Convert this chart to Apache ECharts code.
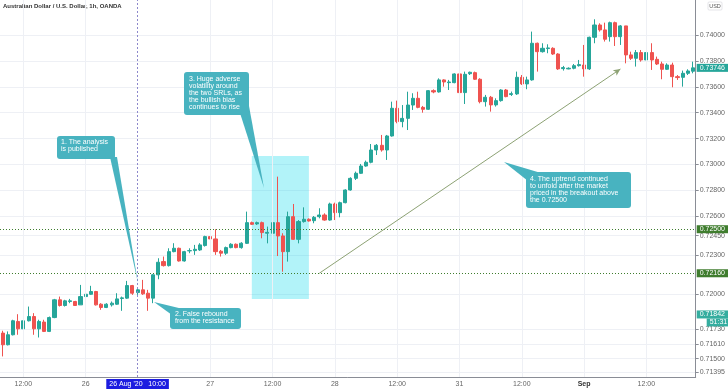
<!DOCTYPE html>
<html><head><meta charset="utf-8">
<script src="https://cdn.jsdelivr.net/npm/echarts@6/dist/echarts.min.js"></script>
<style>html,body{margin:0;padding:0;background:#fff}#c{width:728px;height:391px}</style>
</head><body><div id="c"></div>
<script>
// trading sessions (day, month, first hour, last hour)
const sessions = [['25','Aug',8,23],['26','Aug',0,23],['27','Aug',0,23],['28','Aug',0,20],['30','Aug',21,23],['31','Aug',0,23],['01','Sep',0,21]];
const categories = [];
sessions.forEach(s => { for (let h = s[2]; h <= s[3]; h++) categories.push(s[0] + ' ' + s[1] + ' ' + String(h).padStart(2,'0') + ':00'); });

const open = [0.71698,0.71608,0.71685,0.71788,0.71731,0.71793,0.71826,0.71731,0.71783,0.71711,0.71818,0.71955,0.71911,0.71942,0.71942,0.71916,0.71980,0.71998,0.72019,0.71921,
0.71896,0.71916,0.71921,0.71965,0.71968,0.72065,0.72011,0.72032,0.72006,0.71968,0.72148,0.72250,0.72219,0.72327,0.72353,0.72255,0.72333,0.72335,0.72340,0.72374,
0.72443,0.72425,0.72330,0.72315,0.72358,0.72384,0.72358,0.72391,0.72551,0.72541,0.72551,0.72469,0.72469,0.72551,0.72448,0.72327,0.72597,0.72422,0.72559,0.72577,
0.72566,0.72597,0.72610,0.72571,0.72695,0.72628,0.72705,0.72803,0.72893,0.72932,0.72988,0.73017,0.73112,0.73148,0.73112,0.73220,0.73434,0.73331,0.73356,0.73459,
0.73511,0.73441,0.73426,0.73570,0.73560,0.73653,0.73632,0.73632,0.73699,0.73555,0.73701,0.73709,0.73658,0.73485,0.73519,0.73460,0.73493,0.73575,0.73540,0.73545,
0.73673,0.73622,0.73653,0.73936,0.73871,0.73895,0.73897,0.73853,0.73740,0.73738,0.73743,0.73763,0.73768,0.73738,0.73982,0.74077,0.74039,0.73987,0.74095,0.73987,
0.74070,0.73846,0.73820,0.73864,0.73807,0.73864,0.73812,0.73776,0.73735,0.73768,0.73678,0.73673,0.73704,0.73720];
const close = [0.71608,0.71685,0.71793,0.71731,0.71793,0.71826,0.71731,0.71788,0.71711,0.71818,0.71955,0.71911,0.71947,0.71947,0.71911,0.71980,0.71998,0.72019,0.71916,0.71896,
0.71921,0.71929,0.71962,0.71970,0.72065,0.72006,0.72032,0.72001,0.71968,0.72148,0.72245,0.72219,0.72327,0.72353,0.72255,0.72327,0.72335,0.72345,0.72379,0.72443,
0.72425,0.72327,0.72315,0.72358,0.72384,0.72358,0.72392,0.72551,0.72538,0.72551,0.72474,0.72476,0.72551,0.72448,0.72327,0.72597,0.72422,0.72559,0.72577,0.72564,
0.72592,0.72610,0.72571,0.72695,0.72628,0.72705,0.72803,0.72893,0.72932,0.72988,0.73017,0.73112,0.73148,0.73112,0.73220,0.73434,0.73331,0.73356,0.73459,0.73511,
0.73441,0.73426,0.73570,0.73560,0.73653,0.73637,0.73637,0.73699,0.73555,0.73696,0.73712,0.73658,0.73485,0.73519,0.73460,0.73493,0.73575,0.73524,0.73547,0.73673,
0.73622,0.73653,0.73936,0.73871,0.73897,0.73900,0.73853,0.73738,0.73748,0.73743,0.73763,0.73771,0.73738,0.73982,0.74077,0.74039,0.73967,0.74095,0.73987,0.74070,
0.73846,0.73820,0.73864,0.73807,0.73864,0.73807,0.73776,0.73735,0.73768,0.73678,0.73671,0.73704,0.73722,0.73746];
const low = [0.71518,0.71603,0.71680,0.71685,0.71690,0.71788,0.71685,0.71664,0.71706,0.71706,0.71813,0.71903,0.71903,0.71929,0.71908,0.71916,0.71973,0.71993,0.71911,0.71878,
0.71891,0.71903,0.71916,0.71870,0.71962,0.71993,0.71993,0.71993,0.71870,0.71929,0.72114,0.72212,0.72212,0.72322,0.72250,0.72250,0.72315,0.72302,0.72333,0.72366,
0.72405,0.72302,0.72289,0.72302,0.72353,0.72353,0.72350,0.72386,0.72533,0.72533,0.72430,0.72391,0.72443,0.72293,0.72172,0.72250,0.72417,0.72391,0.72551,0.72559,
0.72546,0.72584,0.72566,0.72566,0.72571,0.72592,0.72700,0.72798,0.72880,0.72927,0.72983,0.73009,0.73073,0.73099,0.73035,0.73215,0.73318,0.73287,0.73266,0.73421,
0.73434,0.73400,0.73421,0.73550,0.73555,0.73601,0.73575,0.73627,0.73524,0.73467,0.73691,0.73653,0.73472,0.73447,0.73408,0.73447,0.73485,0.73519,0.73529,0.73537,
0.73614,0.73581,0.73647,0.73717,0.73864,0.73859,0.73846,0.73730,0.73725,0.73735,0.73735,0.73756,0.73678,0.73730,0.73936,0.74026,0.73949,0.73949,0.73915,0.73923,
0.73781,0.73807,0.73756,0.73794,0.73768,0.73730,0.73768,0.73658,0.73730,0.73596,0.73653,0.73601,0.73691,0.73704];
const high = [0.71716,0.71711,0.71801,0.71844,0.71801,0.71903,0.71852,0.71801,0.71801,0.71826,0.71962,0.71980,0.71955,0.71962,0.71947,0.72070,0.72065,0.72063,0.72024,0.71929,
0.71929,0.71942,0.72006,0.71980,0.72101,0.72070,0.72045,0.72109,0.72032,0.72153,0.72276,0.72289,0.72353,0.72392,0.72358,0.72333,0.72353,0.72379,0.72392,0.72450,
0.72507,0.72500,0.72340,0.72366,0.72392,0.72390,0.72400,0.72636,0.72559,0.72559,0.72559,0.72520,0.72597,0.72906,0.72469,0.72636,0.72695,0.72571,0.72669,0.72584,
0.72602,0.72662,0.72623,0.72705,0.72705,0.72713,0.72808,0.72901,0.72945,0.73004,0.73030,0.73158,0.73158,0.73228,0.73228,0.73485,0.73493,0.73459,0.73562,0.73550,
0.73562,0.73452,0.73575,0.73580,0.73665,0.73658,0.73653,0.73704,0.73807,0.73717,0.73717,0.73717,0.73666,0.73537,0.73529,0.73511,0.73581,0.73583,0.73563,0.73717,
0.73691,0.73678,0.74026,0.73941,0.73936,0.73928,0.73905,0.73859,0.73761,0.73750,0.73776,0.73807,0.73923,0.73987,0.74121,0.74090,0.74095,0.74103,0.74103,0.74077,
0.74070,0.73871,0.73884,0.73884,0.73871,0.73936,0.73833,0.73794,0.73781,0.73786,0.73691,0.73725,0.73735,0.73794];

const yTicks = [0.74000,0.73800,0.73600,0.73400,0.73200,0.73000,0.72800,0.72600,0.72450,0.72300,0.72000,0.71730,0.71610,0.71500,0.71395];
const xTickCats = ['25 Aug 12:00','26 Aug 00:00','27 Aug 00:00','27 Aug 12:00','28 Aug 00:00','28 Aug 12:00','31 Aug 00:00','31 Aug 12:00','01 Sep 00:00','01 Sep 12:00'];
const xTickText = ['12:00','26','27','12:00','28','12:00','31','12:00','Sep','12:00'];
const levels = [0.72500, 0.72160];
const lastPrice = 0.73746;
const otherPrice = 0.71842;
const publishCat = '26 Aug 10:00';
const zoneCats = ['27 Aug 08:00','27 Aug 19:00'];
const zonePrices = [0.73066, 0.71961];
const trendFrom = ['27 Aug 21:00', 0.72160];
const trendTo = ['01 Sep 07:00', 0.73737];

const yMin = 0.71359, yMax = 0.74270;
const FONT = 'Liberation Sans';
const teal = '#48b3c0';
const lvlColor = '#3f7d2e';

const chart = echarts.init(document.getElementById('c'));
const candles = open.map((o, i) => [o, close[i], low[i], high[i]]);

const badge = (bg, text, extra) => Object.assign({show:true, position:'end', distance:1, color:'#fff', backgroundColor:bg,
  fontSize:7, fontFamily:FONT, padding:[1,3,0,3], formatter: text}, extra||{});
const hidden = {color:'rgba(0,0,0,0)', width:1, type:'solid'};

chart.setOption({
  animation:false,
  backgroundColor:'#fff',
  grid:{left:0, right:27, top:0, bottom:14},
  xAxis:{
    type:'category', data:categories, boundaryGap:true,
    axisLine:{lineStyle:{color:'#8a8d96'}},
    axisTick:{show:false},
    splitLine:{show:false},
    axisLabel:{
      interval:(i, v) => xTickCats.indexOf(v) >= 0,
      formatter:(v) => { const t = xTickText[xTickCats.indexOf(v)]; return t === 'Sep' ? '{b|Sep}' : t; },
      rich:{b:{fontWeight:'bold', fontSize:7, color:'#333', fontFamily:FONT}},
      fontSize:7, color:'#666', margin:4, fontFamily:FONT
    }
  },
  yAxis:{
    type:'value', position:'right', min:yMin, max:yMax,
    axisLine:{show:true, lineStyle:{color:'#8a8d96'}},
    axisTick:{show:true, length:3, customValues:yTicks, lineStyle:{color:'#8a8d96'}},
    axisLabel:{customValues:yTicks, formatter:v => v.toFixed(5), fontSize:7, color:'#666', margin:4, fontFamily:FONT},
    splitLine:{show:true, lineStyle:{color:'#eef0f5'}}
  },
  series:[
    {
      type:'line', data:[], z:1, silent:true,
      markLine:{silent:true, symbol:'none', label:{show:false}, animation:false,
        lineStyle:{color:'#eef0f5', type:'solid', width:1},
        data: xTickCats.map(c => ({xAxis:c}))}
    },
    {
      type:'candlestick', data:candles, z:2, barWidth:3.6, clip:false,
      itemStyle:{color:'#26a69a', color0:'#ef5350', borderColor:'#26a69a', borderColor0:'#ef5350', borderWidth:1},
      markLine:{silent:true, symbol:'none', animation:false, precision:5,
        data:[
          {yAxis:levels[0], lineStyle:{color:lvlColor, type:[1,2], width:1}, label:badge(lvlColor, levels[0].toFixed(5))},
          {yAxis:levels[1], lineStyle:{color:lvlColor, type:[1,2], width:1}, label:badge(lvlColor, levels[1].toFixed(5))},
          {yAxis:lastPrice, lineStyle:hidden, label:badge('#26a69a', lastPrice.toFixed(5))},
          {yAxis:otherPrice, lineStyle:hidden, label:badge('#35ad9f', otherPrice.toFixed(5))},
          {yAxis:otherPrice, lineStyle:hidden, label:badge('#35ad9f', '51:31', {offset:[10,8]})}
        ]}
    },
    {
      type:'line', data:[], z:5, silent:true, clip:false,
      markArea:{silent:true, itemStyle:{color:'rgba(0,214,236,0.3)'},
        data:[[{coord:[zoneCats[0], zonePrices[0]]},{coord:[zoneCats[1], zonePrices[1]]}]]},
      markLine:{silent:true, symbol:'none', animation:false, precision:5,
        data:[
          [{coord:[publishCat, yMin], lineStyle:{color:'#8d88cc', type:[2,2], width:1},
            label:{show:true, position:'start', distance:2, formatter:"26 Aug '20   10:00", color:'#fff', backgroundColor:'#1c1ce0',
              fontSize:7, fontFamily:FONT, padding:[2,3,1,3]}},
           {coord:[publishCat, yMax]}],
          [{coord:trendFrom, lineStyle:{color:'#8da274', type:'solid', width:1}, label:{show:false}, symbol:'none'},
           {coord:trendTo, symbol:'arrow', symbolSize:[5,7]}]
        ]}
    }
  ],
  graphic:[
    {type:'text', left:3, top:3, style:{text:'Australian Dollar / U.S. Dollar, 1h, OANDA', fontSize:6, fontWeight:'bold', fontFamily:FONT, fill:'#333'}},
    {type:'rect', shape:{x:708, y:2, width:14, height:8, r:1}, style:{fill:'#fff', stroke:'#c8cad0', lineWidth:0.5}},
    {type:'text', x:715, y:6, style:{text:'USD', fontSize:5.5, fontFamily:FONT, fill:'#555', align:'center', verticalAlign:'middle'}},
    // callout 1
    {type:'polygon', shape:{points:[[110,157],[117,157],[138,283]]}, style:{fill:teal}, z:20},
    {type:'rect', shape:{x:57, y:136, width:58, height:23, r:3}, style:{fill:teal}, z:20},
    {type:'text', x:61, y:139, z:21, style:{text:'1. The analysis\nis published', fontSize:7, lineHeight:7, fontFamily:FONT, fill:'#fff'}},
    // callout 2
    {type:'polygon', shape:{points:[[154,302],[183,309],[172,315]]}, style:{fill:teal}, z:20},
    {type:'rect', shape:{x:170, y:308, width:71, height:21, r:3}, style:{fill:teal}, z:20},
    {type:'text', x:175, y:311, z:21, style:{text:'2. False rebound\nfrom the resistance', fontSize:7, lineHeight:7, fontFamily:FONT, fill:'#fff'}},
    // callout 3
    {type:'polygon', shape:{points:[[240,113],[249,106],[264,188]]}, style:{fill:teal}, z:20},
    {type:'rect', shape:{x:184, y:72, width:65, height:43, r:3}, style:{fill:teal}, z:20},
    {type:'text', x:189, y:76, z:21, style:{text:'3. Huge adverse\nvolatility around\nthe two SRLs, as\nthe bullish bias\ncontinues to rise', fontSize:7, lineHeight:6.8, fontFamily:FONT, fill:'#fff'}},
    // callout 4
    {type:'polygon', shape:{points:[[504,162],[541,173],[528,181]]}, style:{fill:teal}, z:20},
    {type:'rect', shape:{x:526, y:172, width:105, height:36, r:3}, style:{fill:teal}, z:20},
    {type:'text', x:530, y:176, z:21, style:{text:'4. The uptrend continued\nto unfold after the market\npriced in the breakout above\nthe 0.72500', fontSize:7, lineHeight:7, fontFamily:FONT, fill:'#fff'}}
  ]
});
</script></body></html>
